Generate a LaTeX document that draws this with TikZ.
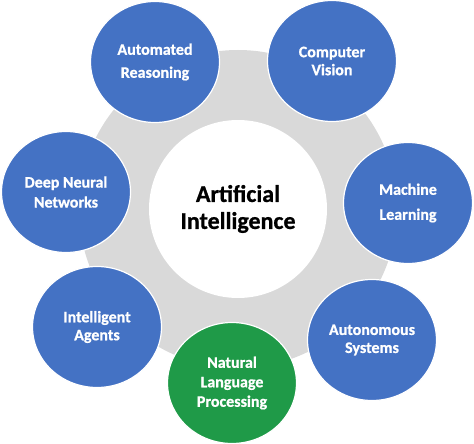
\documentclass[tikz,border=0pt]{standalone}
\usepackage{fontspec}
\setmainfont{Carlito}[BoldFont={Carlito Bold}, BoldFeatures={FakeBold=0.8}]
\usetikzlibrary{shapes.geometric}
\definecolor{aiblue}{HTML}{4472C4}
\definecolor{aigreen}{HTML}{1F9A48}
\definecolor{ringgray}{HTML}{D9D9D9}
\tikzset{
  topic/.style={ellipse, fill=aiblue, draw=white, line width=1.2pt,
    minimum width=129pt, minimum height=121pt, inner sep=0pt,
    text=white, align=center, font=\fontsize{16}{#1}\selectfont\bfseries},
  topic/.default=19,
  core/.style={circle, fill=white, minimum size=178pt, inner sep=0pt,
    align=center, font=\fontsize{24}{27}\selectfont\bfseries, text=black}
}
\begin{document}
\begin{tikzpicture}[x=1pt,y=-1pt]
\useasboundingbox (0,0) rectangle (474,444);
\fill[ringgray] (238,209) circle (159);
\node[core] (ai) at (238,209) {Artificial\\Intelligence};
\node[topic=23] (ar) at (155,62) {Automated\\Reasoning};
\node[topic=18] (cv) at (332,61) {Computer\\Vision};
\node[topic=20] (dnn) at (66,192) {Deep Neural\\Networks};
\node[topic=25] (ml) at (408,203) {Machine\\Learning};
\node[topic=18] (ia) at (97,327) {Intelligent\\Agents};
\node[topic=18] (as) at (372,340) {Autonomous\\Systems};
\node[topic=19.5, fill=aigreen] (nlp) at (232,383) {Natural\\Language\\Processing};
\end{tikzpicture}
\end{document}
